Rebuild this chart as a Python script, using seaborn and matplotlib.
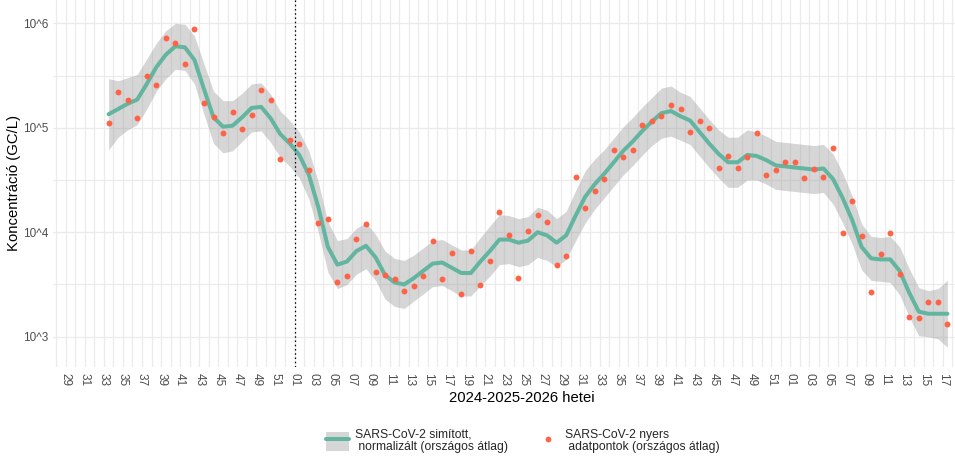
import numpy as np
import pandas as pd
import matplotlib
matplotlib.use("Agg")
import matplotlib.pyplot as plt
import seaborn as sns
from matplotlib.lines import Line2D
from matplotlib.patches import Patch
from matplotlib.legend_handler import HandlerTuple
from matplotlib.ticker import FixedLocator, NullFormatter

# ---------------- data ----------------
weeks_2024 = list(range(29, 53))
weeks_2025 = list(range(1, 53))
weeks_2026 = list(range(1, 19))
week_labels = [f"{w:02d}" for w in weeks_2024 + weeks_2025 + weeks_2026]

first_data_week = 4          # index of 2024-W33 in week_labels
year_break_week = 24         # index of 2025-W01

# raw national averages (GC/L), one per week from 2024-W33 to 2026-W17
raw_conc = [
    110000, 219000, 185000, 123000, 311000, 255000, 718000, 644000, 406000, 877000,
    171000, 126000, 88500, 141000, 96600, 131500, 228600, 184500, 49900, 75900,
    69500, 39200, 12200, 13300, 3320, 3780, 8550, 11900, 4140, 3900,
    3540, 2740, 3030, 3780, 8180, 3540, 6280, 2540, 6560, 3100,
    5310, 15500, 9350, 3650, 10300, 14600, 12400, 4850, 5930, 33600,
    17100, 24800, 32100, 60800, 52100, 60800, 105700, 115300, 129700, 164000,
    150300, 90600, 115300, 98900, 40900, 53300, 40900, 52100, 88500, 35100,
    39200, 46700, 46700, 32800, 40000, 33600, 63500, 9770, 19800, 9140,
    2660, 6150, 9770, 3950, 1530, 1500, 2130, 2130, 1315,
]

# smoothed, normalised national average (log10 GC/L)
smooth_log10 = [
    5.13, 5.18, 5.23, 5.27, 5.42, 5.58, 5.70, 5.78, 5.77, 5.65,
    5.37, 5.10, 5.01, 5.02, 5.10, 5.19, 5.20, 5.09, 4.94, 4.85,
    4.74, 4.55, 4.24, 3.86, 3.69, 3.72, 3.82, 3.87, 3.76, 3.59,
    3.52, 3.50, 3.56, 3.63, 3.70, 3.71, 3.66, 3.61, 3.61, 3.72,
    3.82, 3.93, 3.93, 3.90, 3.92, 4.00, 3.97, 3.90, 3.97, 4.16,
    4.34, 4.46, 4.56, 4.67, 4.78, 4.87, 4.97, 5.06, 5.14, 5.16,
    5.11, 5.07, 4.96, 4.85, 4.75, 4.67, 4.67, 4.74, 4.73, 4.69,
    4.64, 4.63, 4.62, 4.61, 4.60, 4.61, 4.51, 4.33, 4.12, 3.86,
    3.75, 3.74, 3.74, 3.63, 3.42, 3.24, 3.22, 3.22, 3.22,
]

# half width of the confidence band (log10 units)
band_log10 = [
    0.34, 0.27, 0.25, 0.24, 0.24, 0.23, 0.23, 0.22, 0.22, 0.23,
    0.24, 0.25, 0.25, 0.24, 0.23, 0.23, 0.23, 0.23, 0.22, 0.22,
    0.22, 0.23, 0.24, 0.24, 0.23, 0.22, 0.22, 0.22, 0.22, 0.23,
    0.23, 0.23, 0.22, 0.22, 0.22, 0.22, 0.22, 0.22, 0.22, 0.23,
    0.24, 0.24, 0.23, 0.23, 0.23, 0.24, 0.24, 0.23, 0.23, 0.24,
    0.25, 0.24, 0.23, 0.23, 0.23, 0.23, 0.23, 0.23, 0.24, 0.24,
    0.23, 0.23, 0.23, 0.23, 0.23, 0.24, 0.24, 0.24, 0.23, 0.23,
    0.23, 0.23, 0.23, 0.23, 0.23, 0.23, 0.24, 0.24, 0.23, 0.22,
    0.21, 0.21, 0.22, 0.23, 0.23, 0.23, 0.22, 0.24, 0.32,
]

y_tick_exponents = [3, 4, 5, 6]

# ---------------- build table ----------------
n = len(raw_conc)
pos = np.arange(first_data_week, first_data_week + n) + 0.5
sm = np.array(smooth_log10)
bw = np.array(band_log10)
df = pd.DataFrame({
    "pos": pos,
    "raw": raw_conc,
    "smooth": 10 ** sm,
    "lo": 10 ** (sm - bw),
    "hi": 10 ** (sm + bw),
})

# ---------------- style ----------------
sns.set_theme(style="white")
plt.rcParams["font.family"] = ["Liberation Sans", "DejaVu Sans"]

GREEN = "#63b5a0"
RED = "#ff6347"
GRID = "#ebebeb"
TXT = "#4d4d4d"

fig = plt.figure(figsize=(9.55, 4.69), dpi=100)
ax = fig.add_axes([0.0554, 0.2181, 0.9446, 0.7819])

ax.fill_between(df["pos"], df["lo"], df["hi"], color="#999999", alpha=0.4,
                linewidth=0, zorder=2)
sns.lineplot(data=df, x="pos", y="smooth", ax=ax, color=GREEN, linewidth=2.9,
             zorder=3, legend=False)
sns.scatterplot(data=df, x="pos", y="raw", ax=ax, color=RED, s=18,
                linewidth=0, zorder=4, legend=False)
ax.axvline(year_break_week, color="black", linewidth=0.9,
           linestyle=(0, (1.2, 2.2)), zorder=3)

ax.set_yscale("log")
ax.set_xlim(-1.35, 93.3)
ax.set_ylim(10 ** 2.713, 10 ** 6.223)

major_x = np.arange(0, len(week_labels), 2)
ax.set_xticks(major_x)
ax.set_xticklabels([week_labels[i] for i in major_x], rotation=-90,
                   color=TXT, fontsize=8.5, va="top", ha="center")
ax.xaxis.set_minor_locator(FixedLocator(np.arange(-1, len(week_labels), 2)))

ax.set_yticks([10.0 ** e for e in y_tick_exponents])
ax.set_yticklabels([f"10^{e}" for e in y_tick_exponents], color=TXT,
                   fontsize=8.5)
ax.yaxis.set_minor_locator(FixedLocator([10 ** (e + 0.5) for e in range(2, 7)]))
ax.yaxis.set_minor_formatter(NullFormatter())

ax.tick_params(axis="both", which="both", length=0)
ax.tick_params(axis="x", pad=4.5)
ax.tick_params(axis="y", pad=3.5)

ax.grid(which="major", color=GRID, linewidth=0.9)
ax.grid(which="minor", color=GRID, linewidth=0.9)
ax.set_axisbelow(True)
for s in ax.spines.values():
    s.set_visible(False)

ax.set_xlabel("2024-2025-2026 hetei", fontsize=10.7, color="black")
ax.xaxis.set_label_coords((522 - 52.9) / 902.1, -0.066)
ax.xaxis.label.set_va("top")
ax.set_ylabel("Koncentráció (GC/L)", fontsize=10.7, color="black")
ax.yaxis.set_label_coords(-0.0431, 0.5)
ax.yaxis.label.set_va("center")

h1 = (Patch(facecolor="#999999", alpha=0.4, edgecolor="none"),
      Line2D([], [], color=GREEN, linewidth=2.9))
h2 = Line2D([], [], marker="o", color=RED, linestyle="", markersize=4.2,
            markeredgewidth=0)
leg = fig.legend([h1, h2],
                 ["SARS-CoV-2 simított,\n normalizált (országos átlag)",
                  "SARS-CoV-2 nyers\n adatpontok (országos átlag)"],
                 handler_map={tuple: HandlerTuple(ndivide=1, pad=0)},
                 loc="center", bbox_to_anchor=(523 / 955, 1 - 441 / 469),
                 ncol=2, frameon=False, fontsize=8.7, handlelength=1.85,
                 handleheight=2.0, handletextpad=0.5, columnspacing=2.4)
for t in leg.get_texts():
    t.set_linespacing(1.05)

fig.savefig("out.png", dpi=100)
